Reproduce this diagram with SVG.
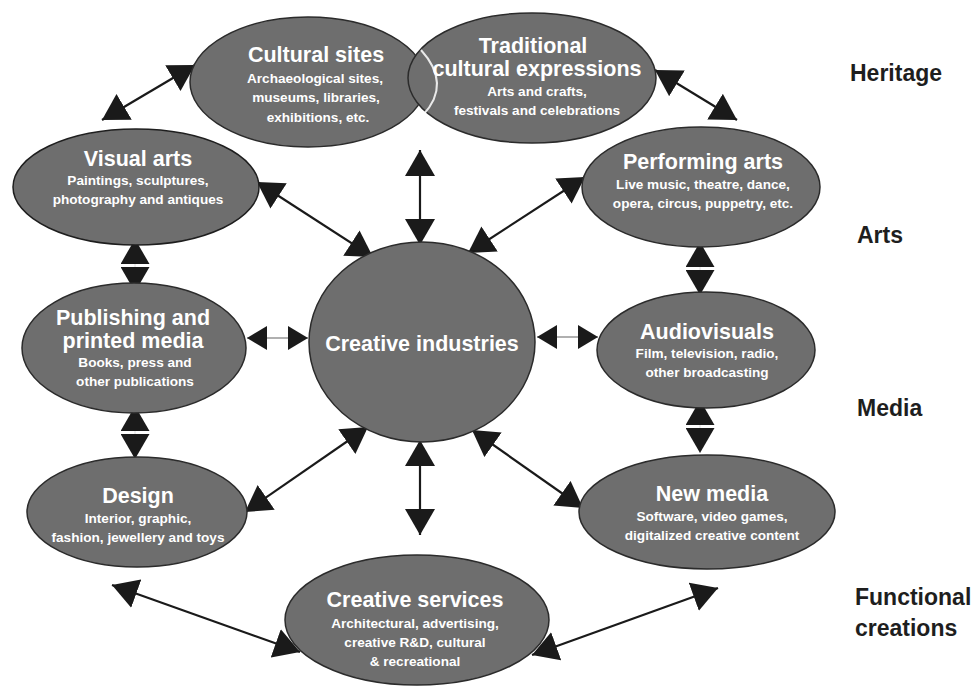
<svg xmlns="http://www.w3.org/2000/svg" width="978" height="686" viewBox="0 0 978 686">
<style>
.n{fill:#6e6e6e;stroke:#2b2b2b;stroke-width:1.5}
.t{font-family:"Liberation Sans",Arial,sans-serif;font-weight:bold;fill:#ffffff;text-anchor:middle}
.h{font-size:21.5px}
.s{font-size:13.6px}
.lab{font-family:"Liberation Sans",Arial,sans-serif;font-weight:bold;font-size:23px;fill:#1e1e1e}
.c{stroke:#1a1a1a;stroke-width:2.2;fill:none}
.g{stroke:#b0b0b0;stroke-width:2;fill:none}
.v{stroke:#e0e0e0;stroke-width:1;fill:none}
</style>
<defs>
<marker id="ah" markerUnits="userSpaceOnUse" markerWidth="26" markerHeight="30" viewBox="0 0 24 28" refX="24" refY="14" orient="auto-start-reverse">
<path d="M0,0 L24,14 L0,28 z" fill="#1a1a1a"/>
</marker>
<marker id="as" markerUnits="userSpaceOnUse" markerWidth="20" markerHeight="24" viewBox="0 0 20 24" refX="20" refY="12" orient="auto-start-reverse">
<path d="M0,0 L20,12 L0,24 z" fill="#1a1a1a"/>
</marker>
<marker id="av" markerUnits="userSpaceOnUse" markerWidth="25" markerHeight="29" viewBox="0 0 25 29" refX="25" refY="14.5" orient="auto-start-reverse">
<path d="M0,0 L25,14.5 L0,29 z" fill="#1a1a1a"/>
</marker>
<marker id="at" markerUnits="userSpaceOnUse" markerWidth="26" markerHeight="30" viewBox="0 0 26 30" refX="26" refY="15" orient="auto-start-reverse">
<path d="M0,0 L26,15 L0,30 z" fill="#1a1a1a"/>
</marker>
</defs>

<g id="connectors">
<line class="c" x1="102" y1="120" x2="195" y2="65" marker-start="url(#ah)" marker-end="url(#ah)"/>
<line class="c" x1="655" y1="70" x2="737" y2="120" marker-start="url(#ah)" marker-end="url(#ah)"/>
<line class="c" x1="257" y1="182" x2="373" y2="257" marker-start="url(#ah)" marker-end="url(#ah)"/>
<line class="c" x1="585" y1="177" x2="468" y2="253" marker-start="url(#ah)" marker-end="url(#ah)"/>
<line class="c" x1="245" y1="512" x2="368" y2="427" marker-start="url(#ah)" marker-end="url(#ah)"/>
<line class="c" x1="583" y1="508" x2="472" y2="430" marker-start="url(#ah)" marker-end="url(#ah)"/>
<line class="c" x1="420" y1="150" x2="420" y2="245" marker-start="url(#at)" marker-end="url(#at)"/>
<line class="c" x1="420" y1="440" x2="420" y2="535" marker-start="url(#at)" marker-end="url(#at)"/>
<line class="c" x1="112" y1="585" x2="300" y2="652" marker-start="url(#ah)" marker-end="url(#ah)"/>
<line class="c" x1="532" y1="655" x2="718" y2="588" marker-start="url(#ah)" marker-end="url(#ah)"/>
<line class="g" x1="247" y1="338" x2="308" y2="338" marker-start="url(#as)" marker-end="url(#as)"/>
<line class="g" x1="537" y1="337" x2="598" y2="337" marker-start="url(#as)" marker-end="url(#as)"/>
<line class="v" x1="135" y1="239" x2="135" y2="292" marker-start="url(#av)" marker-end="url(#av)"/>
<line class="v" x1="135" y1="406" x2="135" y2="459" marker-start="url(#av)" marker-end="url(#av)"/>
<line class="v" x1="700" y1="242" x2="700" y2="295" marker-start="url(#av)" marker-end="url(#av)"/>
<line class="v" x1="700" y1="400" x2="700" y2="453" marker-start="url(#av)" marker-end="url(#av)"/>
</g>

<g id="cultural-sites">
<ellipse class="n" cx="308" cy="82" rx="118" ry="65"/>
<text class="t h" x="316" y="62">Cultural sites</text>
<text class="t s" x="315" y="83">Archaeological sites,</text>
<text class="t s" x="316" y="102">museums, libraries,</text>
<text class="t s" x="318" y="122">exhibitions, etc.</text>
</g>

<g id="traditional-cultural-expressions">
<ellipse class="n" cx="532" cy="78" rx="124" ry="65"/>
<path d="M421,50 Q452,84 423,115" fill="none" stroke="#ffffff" stroke-width="2" opacity="0.85"/>
<text class="t h" x="533" y="53">Traditional</text>
<text class="t h" x="537" y="76">cultural expressions</text>
<text class="t s" x="537" y="96">Arts and crafts,</text>
<text class="t s" x="537" y="115">festivals and celebrations</text>
</g>

<g id="visual-arts">
<ellipse class="n" cx="136" cy="187" rx="123" ry="58" stroke-width="2.5" style="stroke:#1e1e1e"/>
<text class="t h" x="138" y="166">Visual arts</text>
<text class="t s" x="138" y="185">Paintings, sculptures,</text>
<text class="t s" x="138" y="204">photography and antiques</text>
</g>

<g id="performing-arts">
<ellipse class="n" cx="701" cy="187" rx="119" ry="60"/>
<text class="t h" x="703" y="169">Performing arts</text>
<text class="t s" x="703" y="189">Live music, theatre, dance,</text>
<text class="t s" x="703" y="208">opera, circus, puppetry, etc.</text>
</g>

<g id="publishing">
<ellipse class="n" cx="134" cy="348" rx="112" ry="65"/>
<text class="t h" x="133" y="325">Publishing and</text>
<text class="t h" x="133" y="348">printed media</text>
<text class="t s" x="135" y="367">Books, press and</text>
<text class="t s" x="135" y="386">other publications</text>
</g>

<g id="creative-industries">
<ellipse class="n" cx="422" cy="342" rx="113" ry="100"/>
<text class="t h" x="422" y="351">Creative industries</text>
</g>

<g id="audiovisuals">
<ellipse class="n" cx="706" cy="350" rx="109" ry="58"/>
<text class="t h" x="707" y="339">Audiovisuals</text>
<text class="t s" x="707" y="358">Film, television, radio,</text>
<text class="t s" x="707" y="377">other broadcasting</text>
</g>

<g id="design">
<ellipse class="n" cx="137" cy="512" rx="110" ry="55"/>
<text class="t h" x="138" y="503">Design</text>
<text class="t s" x="138" y="523">Interior, graphic,</text>
<text class="t s" x="138" y="542">fashion, jewellery and toys</text>
</g>

<g id="new-media">
<ellipse class="n" cx="707" cy="512" rx="128" ry="57"/>
<text class="t h" x="712" y="501">New media</text>
<text class="t s" x="712" y="521">Software, video games,</text>
<text class="t s" x="712" y="540">digitalized creative content</text>
</g>

<g id="creative-services">
<ellipse class="n" cx="417" cy="620" rx="132" ry="65"/>
<text class="t h" x="415" y="607">Creative services</text>
<text class="t s" x="415" y="628">Architectural, advertising,</text>
<text class="t s" x="415" y="647">creative R&amp;D, cultural</text>
<text class="t s" x="415" y="666">&amp; recreational</text>
</g>

<g id="labels">
<text class="lab" x="850" y="81">Heritage</text>
<text class="lab" x="857" y="243">Arts</text>
<text class="lab" x="857" y="416">Media</text>
<text class="lab" x="855" y="605">Functional</text>
<text class="lab" x="855" y="636">creations</text>
</g>
</svg>
